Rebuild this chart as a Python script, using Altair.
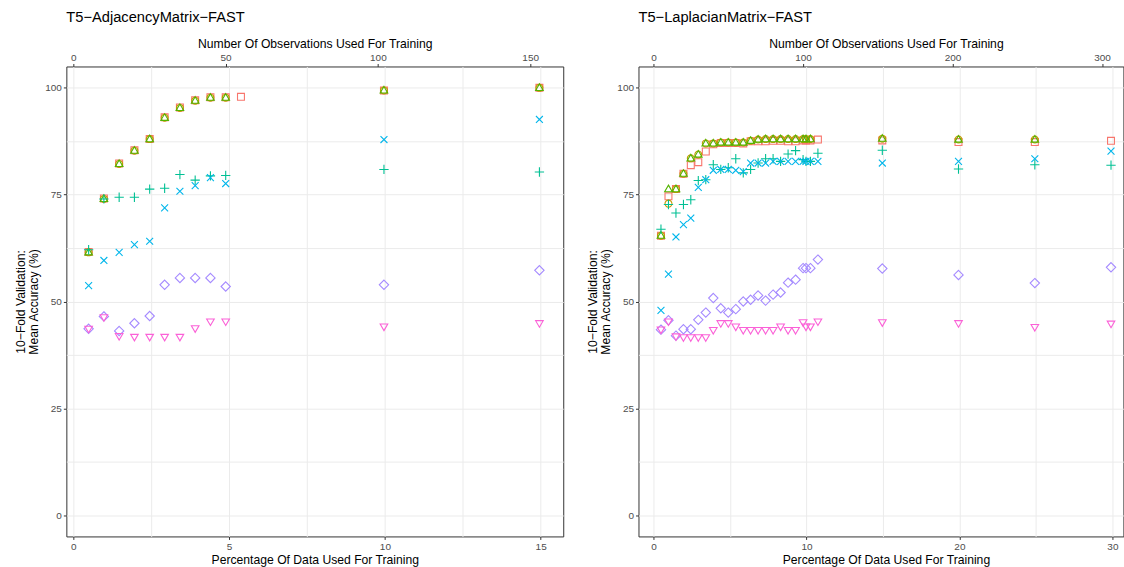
import altair as alt
import pandas as pd

SERIES = ["S1", "S2", "S3", "S4", "S5", "S6", "S7"]
COLORS = ["#F8766D", "#C49A00", "#53B400", "#00C094", "#00B6EB", "#A58AFF", "#FB61D7"]
SHAPES = [
    "M-1,-1H1V1H-1Z",
    "circle",
    "M0,-1.15L1.1,0.75L-1.1,0.75Z",
    "M-1.35,0H1.35M0,-1.35V1.35",
    "M-1,-1L1,1M-1,1L1,-1",
    "M0,-1.35L1.35,0L0,1.35L-1.35,0Z",
    "M0,1.15L1.1,-0.75L-1.1,-0.75Z",
]

# ---------------- Left panel: T5-AdjacencyMatrix-FAST ----------------
left_pct_sq = [0.49, 0.98, 1.47, 1.96, 2.45, 2.93, 3.42, 3.91, 4.40, 4.89, 5.38, 9.97, 14.96]
left_pct = [0.49, 0.98, 1.47, 1.96, 2.45, 2.93, 3.42, 3.91, 4.40, 4.89, 9.97, 14.96]
left_square = [61.6, 74.1, 82.3, 85.4, 88.0, 93.1, 95.4, 97.1, 97.8, 97.8, 97.9, 99.4, 100.0]
left_circle = [61.5, 74.0, 82.2, 85.3, 88.0, 93.0, 95.3, 97.0, 97.7, 97.7, 99.4, 100.0]
left_triangle = [61.5, 74.0, 82.2, 85.3, 88.0, 93.0, 95.3, 97.0, 97.7, 97.7, 99.4, 100.0]
left_plus = [62.1, 74.0, 74.4, 74.4, 76.3, 76.5, 79.7, 78.4, 79.4, 79.5, 80.9, 80.3]
left_cross = [53.7, 59.6, 61.5, 63.3, 64.1, 71.9, 75.8, 77.1, 79.0, 77.6, 87.9, 92.6]
left_diamond = [43.6, 46.5, 43.1, 44.9, 46.6, 53.9, 55.5, 55.5, 55.5, 53.5, 53.9, 57.3]
left_tridown = [43.6, 46.3, 41.9, 41.7, 41.7, 41.7, 41.7, 43.7, 45.3, 45.3, 44.1, 44.9]

# ---------------- Right panel: T5-LaplacianMatrix-FAST ----------------
right_pct = [0.49, 0.98, 1.47, 1.96, 2.44, 2.93, 3.42, 3.91, 4.40, 4.89, 5.38, 5.87, 6.35,
             6.84, 7.33, 7.82, 8.31, 8.80, 9.29, 9.78, 9.97, 10.26, 10.75,
             14.96, 19.94, 24.93, 29.91]
right_pct_tri = [0.49, 0.98, 1.47, 1.96, 2.44, 2.93, 3.42, 3.91, 4.40, 4.89, 5.38, 5.87, 6.35,
                 6.84, 7.33, 7.82, 8.31, 8.80, 9.29, 9.78, 9.97, 10.26,
                 14.96, 19.94, 24.93]
right_square = [65.4, 74.6, 76.3, 79.9, 81.9, 82.6, 85.1, 86.8, 87.1, 87.1, 87.1, 87.0, 87.5,
                87.5, 87.5, 87.6, 87.6, 87.5, 87.5, 87.7, 87.7, 87.7, 87.9,
                87.7, 87.3, 87.3, 87.6]
right_circle = [65.4, 72.9, 76.3, 79.9, 83.5, 84.4, 87.0, 87.0, 87.2, 87.2, 87.2, 87.2, 87.6,
                87.9, 88.0, 88.0, 88.0, 88.0, 88.0, 88.0, 88.0, 88.0,
                88.1, 87.9, 87.9]
right_triangle = [65.4, 76.3, 76.3, 79.9, 83.5, 84.4, 87.0, 87.0, 87.2, 87.2, 87.2, 87.2, 87.6,
                  87.9, 88.0, 88.0, 88.0, 88.0, 88.0, 88.0, 88.0, 88.0,
                  88.1, 87.9, 87.9]
right_plus = [66.9, 72.7, 70.7, 72.7, 73.8, 78.3, 78.5, 82.0, 80.9, 81.3, 83.4, 80.1, 80.9,
              82.4, 83.4, 83.4, 82.8, 84.5, 85.3, 83.2, 82.8, 82.8, 84.7,
              85.4, 81.0, 82.0, 81.9]
right_cross = [47.9, 56.4, 65.1, 68.0, 69.5, 76.7, 78.5, 80.7, 80.9, 80.9, 80.7, 80.4, 82.4,
               82.4, 82.4, 82.8, 82.8, 82.8, 82.8, 82.8, 82.8, 82.8, 82.8,
               82.4, 82.8, 83.4, 85.2]
right_diamond = [43.4, 45.6, 42.0, 43.5, 43.5, 45.7, 47.4, 50.8, 48.4, 47.4, 48.2, 50.0, 50.4,
                 51.4, 50.2, 51.6, 52.1, 54.4, 55.1, 57.8, 57.8, 57.8, 59.8,
                 57.7, 56.2, 54.3, 58.0]
right_tridown = [43.4, 45.3, 41.8, 41.6, 41.6, 41.6, 41.6, 43.3, 44.9, 44.9, 44.1, 43.3, 43.3,
                 43.3, 43.3, 43.3, 44.1, 43.3, 43.3, 45.1, 44.1, 44.1, 45.3,
                 45.1, 44.9, 44.0, 44.8]

left_top_ticks = [0, 50, 100, 150]
right_top_ticks = [0, 100, 200, 300]
y_ticks = [0, 12.5, 25, 37.5, 50, 62.5, 75, 87.5, 100]


def build(parts):
    rows = []
    for name, xs, ys in parts:
        for x, y in zip(xs, ys):
            rows.append({"series": name, "pct": x, "acc": y})
    return pd.DataFrame(rows)


left_df = build([
    ("S1", left_pct_sq, left_square), ("S2", left_pct, left_circle),
    ("S3", left_pct, left_triangle), ("S4", left_pct, left_plus),
    ("S5", left_pct, left_cross), ("S6", left_pct, left_diamond),
    ("S7", left_pct, left_tridown),
])
right_df = build([
    ("S1", right_pct, right_square), ("S2", right_pct_tri, right_circle),
    ("S3", right_pct_tri, right_triangle), ("S4", right_pct, right_plus),
    ("S5", right_pct, right_cross), ("S6", right_pct, right_diamond),
    ("S7", right_pct, right_tridown),
])

FONT = "Liberation Sans"
Y_TITLE = ["10\u2212Fold Validation:", "Mean Accuracy (%)"]


def panel(df, title, xdom, xvals, major, topdom, topvals, width, show_title_x):
    pts = alt.Chart(df).mark_point(filled=False, strokeWidth=1.1, size=48, opacity=1).encode(
        x=alt.X("pct:Q",
                scale=alt.Scale(domain=xdom, nice=False, zero=False),
                axis=alt.Axis(values=xvals,
                              labelExpr=f"datum.value % {major} === 0 ? datum.label : ''",
                              tickOpacity={"condition": {"test": f"datum.value % {major} !== 0", "value": 0}, "value": 1},
                              title="Percentage Of Data Used For Training",
                              titleX=show_title_x, labelPadding=2, titlePadding=2.4)),
        y=alt.Y("acc:Q",
                scale=alt.Scale(domain=[-5, 105], nice=False, zero=False),
                axis=alt.Axis(values=y_ticks,
                              labelExpr="datum.value % 25 === 0 ? datum.label : ''",
                              tickOpacity={"condition": {"test": "datum.value % 25 !== 0", "value": 0}, "value": 1},
                              title=Y_TITLE, titleLineHeight=13.5, titlePadding=4, labelPadding=2)),
        color=alt.Color("series:N", scale=alt.Scale(domain=SERIES, range=COLORS), legend=None),
        shape=alt.Shape("series:N", scale=alt.Scale(domain=SERIES, range=SHAPES), legend=None),
    )
    top_df = pd.DataFrame({"obs": topvals})
    top = alt.Chart(top_df).mark_point(opacity=0).encode(
        x=alt.X("obs:Q",
                scale=alt.Scale(domain=topdom, nice=False, zero=False),
                axis=alt.Axis(orient="top", values=topvals, grid=False, format="d",
                              title="Number Of Observations Used For Training",
                              titleX=show_title_x)),
    )
    return alt.layer(pts, top).resolve_scale(x="independent").properties(
        width=width, height=471,
        title=alt.TitleParams(title, anchor="start", frame="group", offset=12.6),
    )


left = panel(left_df, "T5\u2212AdjacencyMatrix\u2212FAST",
             [-0.225, 15.725], [0, 2.5, 5, 7.5, 10, 12.5, 15], 5,
             [-2.30, 160.87], left_top_ticks, 498, 249)
right = panel(right_df, "T5\u2212LaplacianMatrix\u2212FAST",
              [-0.98, 30.72], [0, 5, 10, 15, 20, 25, 30], 10,
              [-10.03, 314.26], right_top_ticks, 486, 248)

chart = alt.hconcat(left, right, spacing=21.4).properties(
    padding={"left": 13.5, "top": 9, "right": 0, "bottom": 0}
).configure_view(
    stroke="#333333", strokeWidth=1
).configure_axis(
    domain=False, grid=True, gridColor="#EBEBEB", gridWidth=1,
    tickColor="#333333", tickSize=3, labelPadding=0.5,
    labelColor="#4D4D4D", labelFont=FONT, labelFontSize=10,
    titleFont=FONT, titleFontSize=12.2, titleFontWeight="normal", titleColor="black",
    titlePadding=2.4,
).configure_title(
    font=FONT, fontSize=14.7, fontWeight="normal", color="black"
)

chart.save("out.html", embed_options={"renderer": "svg", "actions": False})
